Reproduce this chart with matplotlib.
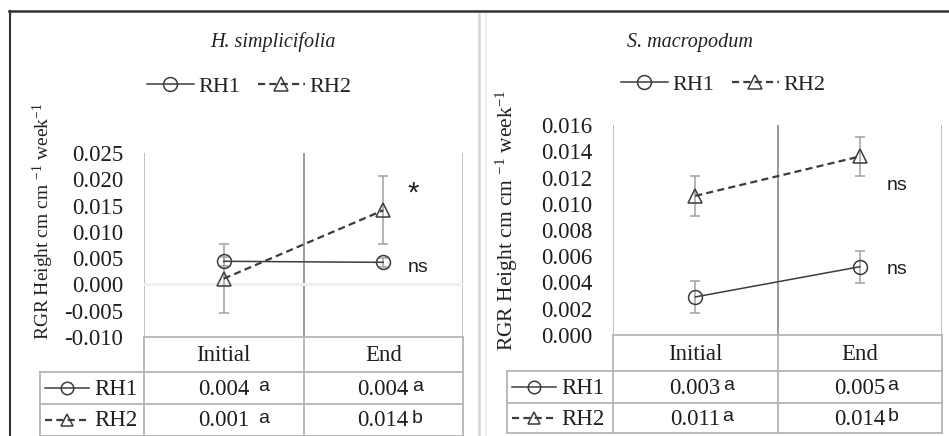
import numpy as np
import matplotlib
matplotlib.use("Agg")
import matplotlib.pyplot as plt
from matplotlib.lines import Line2D

plt.rcParams['mathtext.fontset'] = 'custom'
plt.rcParams['mathtext.rm'] = 'Liberation Serif'
plt.rcParams['mathtext.it'] = 'Liberation Serif:italic'

# ---------------- data ----------------
categories = ['Initial', 'End']
series_names = ['RH1', 'RH2']

hs_title = 'H. simplicifolia'
hs_rh1 = [0.0044, 0.0042]
hs_rh1_err = [0.0008, 0.0008]
hs_rh2 = [0.0011, 0.0141]
hs_rh2_err = [0.0065, 0.0065]
hs_yticks = [-0.010, -0.005, 0.000, 0.005, 0.010, 0.015, 0.020, 0.025]
hs_table = [['0.004', '0.004'], ['0.001', '0.014']]
hs_letters = [['a', 'a'], ['a', 'b']]
hs_marks = ['ns', '*']

sm_title = 'S. macropodum'
sm_rh1 = [0.0029, 0.0052]
sm_rh1_err = [0.0012, 0.0012]
sm_rh2 = [0.0106, 0.0136]
sm_rh2_err = [0.0015, 0.0015]
sm_yticks = [0.000, 0.002, 0.004, 0.006, 0.008, 0.010, 0.012, 0.014, 0.016]
sm_table = [['0.003', '0.005'], ['0.011', '0.014']]
sm_letters = [['a', 'a'], ['a', 'b']]
sm_marks = ['ns', 'ns']

ylabel = 'RGR Height cm cm $^{-1}$ week$^{-1}$'

# ---------------- layout ----------------
W, H = 949, 436
fig = plt.figure(figsize=(W / 100, H / 100), dpi=100)
fig.patch.set_facecolor('white')

SERIF = ['Liberation Serif', 'DejaVu Serif']
SANS = ['Liberation Sans', 'DejaVu Sans']
LINE_C = '#3c3c3c'
ERR_C = '#a0a0a0'
GRID_C = '#b4b4b4'
TXT_C = '#1e1e1e'


def px_axes(l, t, r, b):
    return fig.add_axes([l / W, 1 - b / H, (r - l) / W, (b - t) / H])


def fig_line(xs, ys, **kw):
    fig.add_artist(Line2D([x / W for x in xs], [1 - y / H for y in ys],
                          transform=fig.transFigure, **kw))


def series_style(i):
    if i == 0:
        return dict(color=LINE_C, lw=1.1, ls='-', marker='o', ms=10,
                    mfc='none', mec=LINE_C, mew=1.1)
    return dict(color=LINE_C, lw=1.6, ls=(0, (3.2, 1.9)), marker='^', ms=10,
                mfc='none', mec=LINE_C, mew=1.1)


def draw_panel(title, vals, errs, yticks, table, letters, marks, box, tbox,
               title_xy, legend_xy, ylabel_xy, ylabel_size, mark_offsets,
               letter_gaps):
    L, T, R, B = box
    ax = px_axes(L, T, R, B)
    n = len(categories)
    x = np.arange(n)
    for s in ax.spines.values():
        s.set_visible(False)
    ax.set_xlim(-0.5, n - 0.5)
    ax.set_ylim(yticks[0], yticks[-1])
    ax.set_yticks(yticks)
    ax.set_yticklabels([f'{v:.3f}' for v in yticks], fontfamily=SERIF)
    ax.tick_params(axis='y', length=0, pad=15, labelsize=16.5,
                   labelcolor=TXT_C)
    ax.set_xticks([])
    for k, b in enumerate(np.arange(-0.5, n)):
        ax.axvline(b, color='#8a8a8a' if 0 < k < n else GRID_C, lw=1.2,
                   zorder=1)
    if yticks[0] < 0 < yticks[-1]:
        ax.axhline(0, color='#efefef', lw=2, zorder=1)
    handles = []
    for i, (v, e) in enumerate(zip(vals, errs)):
        c = ax.errorbar(x, v, yerr=e, ecolor=ERR_C, elinewidth=1.1,
                        capsize=3.5, capthick=1.1, zorder=3, **series_style(i))
        handles.append(c[0])
    # significance marks
    for i, (v, m) in enumerate(zip(vals, marks)):
        dx, dy = mark_offsets[i]
        ax.annotate(m, xy=(x[-1], v[-1]), xytext=(dx, dy),
                    textcoords='offset pixels', ha='center', va='center',
                    fontfamily=SANS, fontsize=14 if m != '*' else 21,
                    color=TXT_C)
    # title & legend
    fig.text(title_xy[0] / W, 1 - title_xy[1] / H, title, ha='center',
             va='center', fontfamily=SERIF, style='italic', fontsize=14.5,
             color='#222222')
    fig.legend(handles, series_names, loc='center',
               bbox_to_anchor=(legend_xy[0] / W, 1 - legend_xy[1] / H),
               ncol=2, frameon=False, handlelength=2.1, handletextpad=0.2,
               columnspacing=0.8, prop={'family': SERIF, 'size': 16},
               labelcolor='#222222')
    fig.text(ylabel_xy[0] / W, 1 - ylabel_xy[1] / H, ylabel, rotation=90,
             ha='center', va='center', fontfamily=SERIF,
             fontsize=ylabel_size, color='#222222')

    # data table
    tl, tt, tr, tb, rows = tbox
    tax = px_axes(tl, tt, tr, tb)
    tax.set_xlim(tl, tr)
    tax.set_ylim(tb, tt)
    tax.axis('off')
    cw = (R - L) / n
    cols = [L + k * cw for k in range(n + 1)]
    lk = dict(color=GRID_C, lw=1.3, clip_on=False)
    tax.plot([L, R], [rows[0], rows[0]], **lk)
    for r in rows[1:]:
        tax.plot([tl, R], [r, r], **lk)
    tax.plot([tl, tl], [rows[1], rows[-1]], **lk)
    for c in cols:
        tax.plot([c, c], [rows[0], rows[-1]], **lk)
    for j, cat in enumerate(categories):
        tax.text(L + (j + 0.5) * cw, (rows[0] + rows[1]) / 2 + 1, cat,
                 ha='center', va='center', fontfamily=SERIF, fontsize=16.5,
                 color=TXT_C)
    for i, name in enumerate(series_names):
        yc = (rows[i + 1] + rows[i + 2]) / 2
        st = series_style(i)
        st['ms'] = 9
        tax.plot([tl + 5, tl + 27, tl + 49], [yc, yc, yc], markevery=[1],
                 clip_on=False, **st)
        tax.text(tl + 54, yc + 1, name, ha='left', va='center',
                 fontfamily=SERIF, fontsize=16.5, color=TXT_C)
        for j in range(n):
            t = tax.text(L + (j + 0.5) * cw, yc + 1, table[i][j], ha='center',
                         va='center', fontfamily=SERIF, fontsize=16.5,
                         color=TXT_C)
            tax.annotate(letters[i][j], xy=(1, 0.62), xycoords=t,
                         xytext=(letter_gaps[j], 0), textcoords='offset pixels',
                         ha='left', va='center', fontfamily=SANS, fontsize=14,
                         color=TXT_C)
    return ax


draw_panel(hs_title, [hs_rh1, hs_rh2], [hs_rh1_err, hs_rh2_err], hs_yticks,
           hs_table, hs_letters, hs_marks,
           box=(144, 153, 463, 337),
           tbox=(40, 337, 463, 436, [337, 372, 404, 435.5]),
           title_xy=(273, 42), legend_xy=(249, 87), ylabel_xy=(43, 221),
           ylabel_size=14, mark_offsets=[(35, -5), (30, 17)],
           letter_gaps=[9, 3])

draw_panel(sm_title, [sm_rh1, sm_rh2], [sm_rh1_err, sm_rh2_err], sm_yticks,
           sm_table, sm_letters, sm_marks,
           box=(613, 125, 942, 335),
           tbox=(507, 335, 942, 433, [335, 371, 403, 433]),
           title_xy=(690, 42), legend_xy=(723, 85), ylabel_xy=(507, 220),
           ylabel_size=15.5, mark_offsets=[(37, -3), (37, -29)],
           letter_gaps=[2, 2])

# frame lines
fig_line([9, 949], [11.5, 11.5], color='#333333', lw=1.8)
fig_line([9.5, 9.5], [11, 436], color='#333333', lw=1.5)
fig_line([479, 479], [14, 436], color='#d4d4d4', lw=1.8)
fig_line([486, 486], [14, 436], color='#efefef', lw=1.5)

fig.savefig('out.png', dpi=100, facecolor='white')
